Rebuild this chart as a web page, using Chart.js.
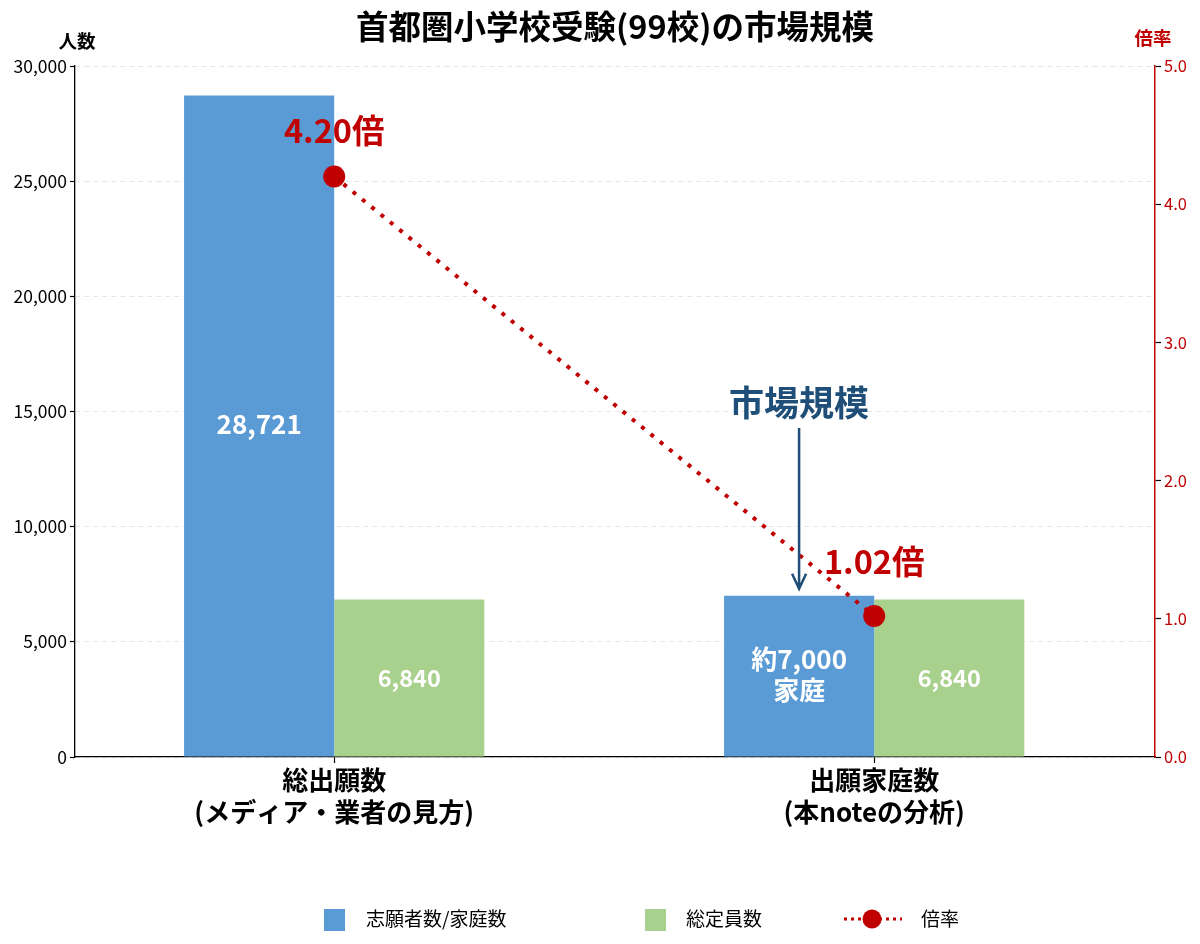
<!DOCTYPE html>
<html>
<head>
<meta charset="utf-8">
<script src="https://cdn.jsdelivr.net/npm/chart.js@4.4.1/dist/chart.umd.min.js"></script>
<style>
  html, body { margin: 0; padding: 0; background: #fff; }
  #wrap { width: 1200px; height: 944px; }
</style>
</head>
<body>
<div id="wrap"><canvas id="marketChart" width="1200" height="944"></canvas></div>
<script>
const categories = [['総出願数', '(メディア・業者の見方)'], ['出願家庭数', '(本noteの分析)']];
const applicants = [28721, 7000];
const capacity = [6840, 6840];
const ratio = [4.20, 1.02];
const applicantLabels = [['28,721'], ['約7,000', '家庭']];
const capacityLabels = ['6,840', '6,840'];
const ratioLabels = ['4.20倍', '1.02倍'];
const leftTicks = [0, 5000, 10000, 15000, 20000, 25000, 30000];
const rightTicks = [0, 1, 2, 3, 4, 5];

const FONT = "'Noto Sans CJK JP', 'Noto Sans', sans-serif";
const BLUE = '#5b9bd5';
const GREEN = '#a9d18e';
const RED = '#c00000';
const NAVY = '#1f4e79';

const toPoints = arr => arr.map((v, i) => ({ x: i, y: v }));

// labels, arrow, title, custom legend
const overlay = {
  id: 'overlay',
  afterDatasetsDraw(chart) {
    const ctx = chart.ctx;
    const x = chart.scales.x, y2 = chart.scales.y2;
    const barMeta = chart.getDatasetMeta(1);
    const capMeta = chart.getDatasetMeta(2);
    ctx.save();
    ctx.textAlign = 'center';
    ctx.textBaseline = 'middle';

    // values inside bars
    ctx.fillStyle = '#fff';
    ctx.font = `bold 26px ${FONT}`;
    barMeta.data.forEach((bar, i) => {
      const lines = applicantLabels[i];
      const mid = i === 0 ? (bar.y + bar.base) / 2 - 2 : (bar.y + bar.base) / 2 - 2;
      const lh = 31;
      lines.forEach((t, k) => {
        ctx.fillText(t, bar.x, mid + (k - (lines.length - 1) / 2) * lh);
      });
    });
    ctx.font = `bold 23.5px ${FONT}`;
    capMeta.data.forEach((bar, i) => {
      ctx.fillText(capacityLabels[i], bar.x, (bar.y + bar.base) / 2);
    });

    // ratio labels
    ctx.fillStyle = RED;
    ctx.font = `bold 32.5px ${FONT}`;
    const lift = [46, 54];
    ratio.forEach((v, i) => {
      ctx.fillText(ratioLabels[i], x.getPixelForValue(i), y2.getPixelForValue(v) - lift[i]);
    });

    // market size arrow
    const b = barMeta.data[1];
    const ax = b.x - b.width / 2 + 75;
    ctx.fillStyle = NAVY;
    ctx.font = `bold 35px ${FONT}`;
    ctx.fillText('市場規模', ax, 403);
    ctx.strokeStyle = NAVY;
    ctx.lineWidth = 2.5;
    ctx.beginPath();
    ctx.moveTo(ax, 428);
    ctx.lineTo(ax, b.y - 7);
    ctx.moveTo(ax - 7, b.y - 22);
    ctx.lineTo(ax, b.y - 7);
    ctx.lineTo(ax + 7, b.y - 22);
    ctx.stroke();

    // title and axis captions
    ctx.fillStyle = '#000';
    ctx.font = `bold 32.5px ${FONT}`;
    ctx.fillText('首都圏小学校受験(99校)の市場規模', (chart.chartArea.left + chart.chartArea.right) / 2, 27);
    ctx.font = `bold 18.5px ${FONT}`;
    ctx.fillText('人数', 77, 41);
    ctx.fillStyle = RED;
    ctx.fillText('倍率', 1153, 38);

    // legend
    const ly = 919;
    ctx.textAlign = 'left';
    ctx.font = `19px ${FONT}`;
    ctx.fillStyle = BLUE;
    ctx.fillRect(324, ly - 10, 21, 22);
    ctx.fillStyle = '#000';
    ctx.fillText('志願者数/家庭数', 366, ly);
    ctx.fillStyle = GREEN;
    ctx.fillRect(645, ly - 10, 21, 22);
    ctx.fillStyle = '#000';
    ctx.fillText('総定員数', 686, ly);
    ctx.strokeStyle = RED;
    ctx.lineWidth = 3;
    ctx.setLineDash([3, 4]);
    ctx.beginPath();
    ctx.moveTo(844, ly);
    ctx.lineTo(902, ly);
    ctx.stroke();
    ctx.setLineDash([]);
    ctx.fillStyle = RED;
    ctx.beginPath();
    ctx.arc(872, ly, 9.5, 0, Math.PI * 2);
    ctx.fill();
    ctx.fillStyle = '#000';
    ctx.fillText('倍率', 921, ly);
    ctx.restore();
  }
};

new Chart(document.getElementById('marketChart'), {
  data: {
    datasets: [
      {
        type: 'line',
        label: '倍率',
        data: toPoints(ratio),
        yAxisID: 'y2',
        borderColor: RED,
        backgroundColor: RED,
        borderWidth: 4,
        borderDash: [4, 8],
        pointRadius: 11,
        pointHoverRadius: 11,
        pointBorderWidth: 0,
        order: 0
      },
      {
        type: 'bar',
        label: '志願者数/家庭数',
        data: toPoints(applicants),
        yAxisID: 'y',
        backgroundColor: BLUE,
        barPercentage: 1,
        categoryPercentage: 0.556,
        order: 1
      },
      {
        type: 'bar',
        label: '総定員数',
        data: toPoints(capacity),
        yAxisID: 'y',
        backgroundColor: GREEN,
        barPercentage: 1,
        categoryPercentage: 0.556,
        order: 1
      }
    ]
  },
  options: {
    responsive: false,
    animation: false,
    layout: { padding: { top: 66, left: 0, right: 0, bottom: 0 } },
    plugins: { legend: { display: false }, tooltip: { enabled: false } },
    scales: {
      x: {
        type: 'linear',
        min: -0.48,
        max: 1.52,
        offset: false,
        afterBuildTicks(s) { s.ticks = categories.map((c, i) => ({ value: i })); },
        grid: { display: true, offset: false, drawOnChartArea: false, tickLength: 6, tickColor: '#000', tickWidth: 1.2 },
        border: { display: true, color: '#000', width: 1.3 },
        ticks: {
          color: '#000',
          font: { family: FONT, size: 26, weight: 'bold', lineHeight: 1.23 },
          padding: 1,
          maxRotation: 0,
          callback: v => categories[v]
        },
        afterFit(s) { s.height = 187; }
      },
      y: {
        position: 'left',
        min: 0,
        max: 30000,
        afterBuildTicks(s) { s.ticks = leftTicks.map(v => ({ value: v })); },
        grid: { color: '#e6e6e6', tickColor: '#000', tickLength: 5, tickWidth: 1.2, lineWidth: 1 },
        border: { color: '#000', width: 1.3, dash: [5, 4] },
        ticks: {
          color: '#000',
          font: { family: FONT, size: 17.5 },
          padding: 3,
          callback: v => v.toLocaleString('en-US')
        },
        afterFit(s) { s.width = 75; }
      },
      y2: {
        position: 'right',
        min: 0,
        max: 5,
        afterBuildTicks(s) { s.ticks = rightTicks.map(v => ({ value: v })); },
        grid: { drawOnChartArea: false, tickColor: '#000', tickLength: 6, tickWidth: 1.2 },
        border: { color: RED, width: 1.5 },
        ticks: {
          color: RED,
          font: { family: FONT, size: 16.5 },
          padding: 3,
          callback: v => v.toFixed(1)
        },
        afterFit(s) { s.width = 45; }
      }
    }
  },
  plugins: [overlay]
});
</script>
</body>
</html>
